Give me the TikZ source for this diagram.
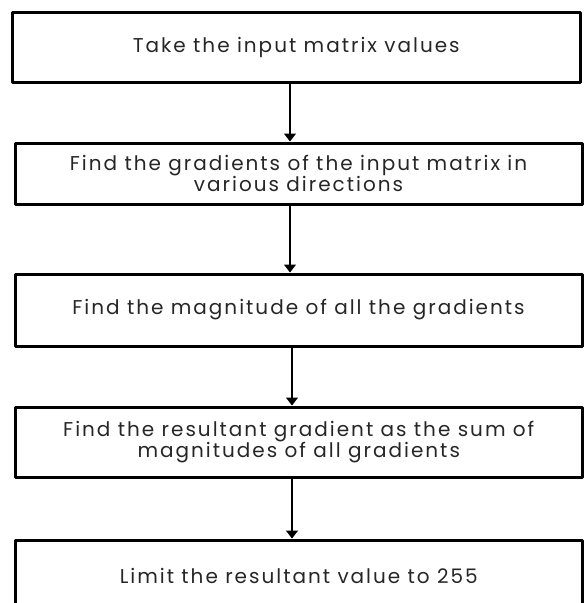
\documentclass[tikz,border=0pt]{standalone}
\usepackage{fontspec}
\setmainfont{Poppins}[LetterSpace=10]
\usetikzlibrary{arrows.meta}
\begin{document}
\begin{tikzpicture}[x=1pt,y=-1pt,>={Triangle[length=8pt,width=12pt]},line join=round,
		stepbox/.style={draw,line width=3pt,rectangle,inner sep=0pt,align=center,
			text=black!85,font=\fontsize{20}{20.5}\selectfont},
		link/.style={->,line width=1.4pt}]
		\useasboundingbox (0,0) rectangle (584,603);
		%\draw[color=gray!50,dashed] (0,0) grid[step=50] (584,603);
		\node[stepbox,minimum width=567.5pt,minimum height=70pt] (input) at (296.25,47) {Take the input matrix values};
		\node[stepbox,minimum width=567pt,minimum height=61pt] (grad) at (298.5,173.5) {Find the gradients of the input matrix in\\various directions};
		\node[stepbox,minimum width=567pt,minimum height=72pt] (magn) at (298.5,310) {Find the magnitude of all the gradients};
		\node[stepbox,minimum width=566.5pt,minimum height=70pt] (sum) at (298.75,442) {Find the resultant gradient as the sum of\\magnitudes of all gradients};
		\node[stepbox,minimum width=566.5pt,minimum height=72pt] (limit) at (298.75,576) {Limit the resultant value to 255};
		\coordinate (axis) at (290,0);
		\coordinate (axisb) at (292,0);
		\draw[link] (input.south -| axis) -- (grad.north -| axis);
		\draw[link] (grad.south -| axis) -- (magn.north -| axis);
		\draw[link] (magn.south -| axisb) -- (sum.north -| axisb);
		\draw[link] (sum.south -| axisb) -- (limit.north -| axisb);
	\end{tikzpicture}
\end{document}
